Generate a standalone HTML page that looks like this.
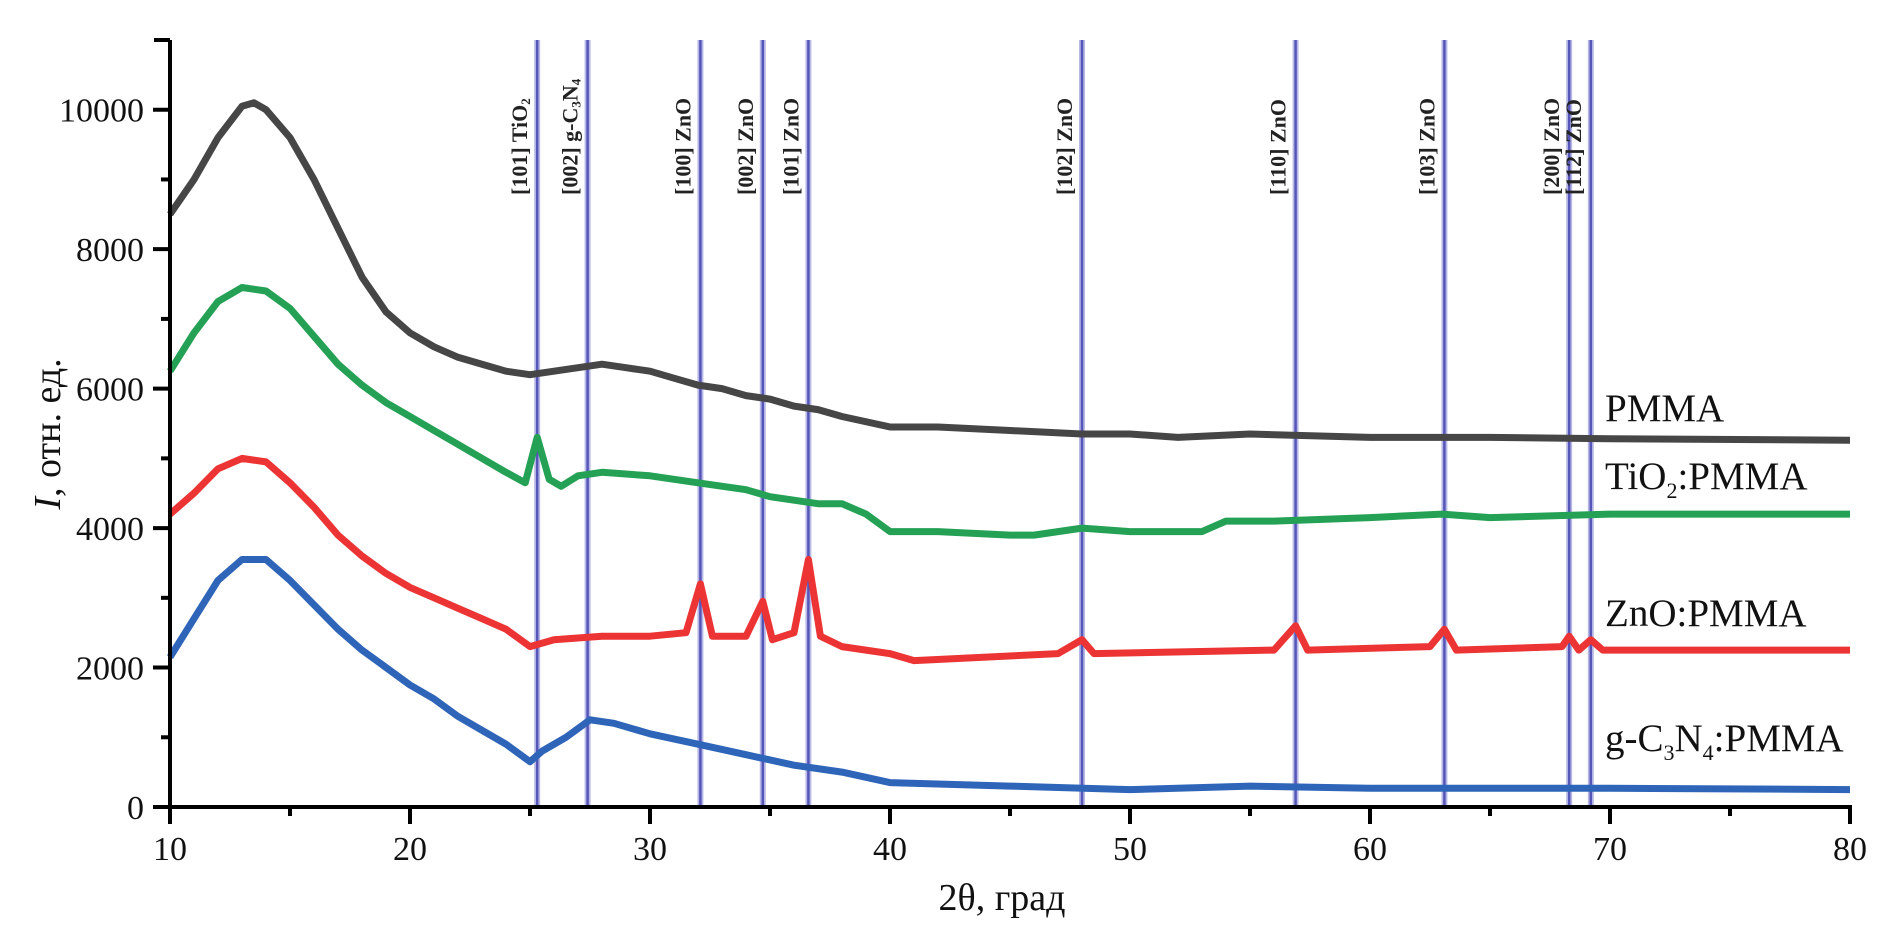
<!DOCTYPE html>
<html><head><meta charset="utf-8"><style>
html,body{margin:0;padding:0;background:#fff;}
svg{display:block;font-family:"Liberation Serif",serif;}
</style></head><body>
<svg id="chart" width="1890" height="934" viewBox="0 0 1890 934" xmlns="http://www.w3.org/2000/svg">
<g id="refs"></g>
<g id="series"></g>
<g id="axes"></g>
<text x="1002" y="910" font-size="38" text-anchor="middle" fill="#111">2θ, град</text>
<text transform="translate(60,434) rotate(-90)" font-size="38" text-anchor="middle" fill="#111"><tspan font-style="italic">I</tspan>, отн. ед.</text>
<text x="1605" y="421" font-size="39" fill="#111">PMMA</text>
<text x="1605" y="489" font-size="39" fill="#111">TiO<tspan font-size="22" dy="9">2</tspan><tspan dy="-9">:PMMA</tspan></text>
<text x="1605" y="626" font-size="39" fill="#111">ZnO:PMMA</text>
<text x="1605" y="751" font-size="39" fill="#111">g-C<tspan font-size="22" dy="9">3</tspan><tspan dy="-9">N</tspan><tspan font-size="22" dy="9">4</tspan><tspan dy="-9">:PMMA</tspan></text>
</svg>
<script>
const xTicks = [10, 20, 30, 40, 50, 60, 70, 80];
const yTicks = [0, 2000, 4000, 6000, 8000, 10000];
const refPositions = [25.3, 27.4, 32.1, 34.7, 36.6, 48.0, 56.9, 63.1, 68.3, 69.2];
const refLabels = [["[101] TiO","2",""],["[002] g-C","3","N","4"],["[100] ZnO"],["[002] ZnO"],["[101] ZnO"],["[102] ZnO"],["[110] ZnO"],["[103] ZnO"],["[200] ZnO"],["[112] ZnO"]];

const pmmaX = [10,11,12,13,13.5,14,15,16,17,18,19,20,21,22,23,24,25,26,27,28,29,30,31,32,33,34,35,36,37,38,40,42,45,48,50,52,55,60,65,70,80];
const pmmaY = [8500,9000,9600,10050,10100,10000,9600,9000,8300,7600,7100,6800,6600,6450,6350,6250,6200,6250,6300,6350,6300,6250,6150,6050,6000,5900,5850,5750,5700,5600,5450,5450,5400,5350,5350,5300,5350,5300,5300,5280,5260];

const tioX = [10,11,12,13,14,15,16,17,18,19,20,21,22,23,24,24.8,25.3,25.8,26.3,27,28,30,32,34,35,36,37,38,39,40,42,45,46,48,50,52,53,54,56,60,63,65,70,80];
const tioY = [6250,6800,7250,7450,7400,7150,6750,6350,6050,5800,5600,5400,5200,5000,4800,4650,5300,4700,4600,4750,4800,4750,4650,4550,4450,4400,4350,4350,4200,3950,3950,3900,3900,4000,3950,3950,3950,4100,4100,4150,4200,4150,4200,4200];

const znoX = [10,11,12,13,14,15,16,17,18,19,20,21,22,23,24,25,26,28,30,31.5,32.1,32.6,34,34.7,35.1,36,36.6,37.1,38,40,41,44,47,48,48.5,56,56.9,57.4,62.5,63.1,63.6,68,68.3,68.7,69.2,69.7,80];
const znoY = [4200,4500,4850,5000,4950,4650,4300,3900,3600,3350,3150,3000,2850,2700,2550,2300,2400,2450,2450,2500,3200,2450,2450,2950,2400,2500,3550,2450,2300,2200,2100,2150,2200,2400,2200,2250,2600,2250,2300,2550,2250,2300,2450,2250,2400,2250,2250];

const gcnX = [10,11,12,13,14,15,16,17,18,19,20,21,22,23,24,25,25.5,26.5,27.5,28.5,30,32,34,36,38,40,45,50,55,60,70,80];
const gcnY = [2150,2700,3250,3550,3550,3250,2900,2550,2250,2000,1750,1550,1300,1100,900,650,800,1000,1250,1200,1050,900,750,600,500,350,300,250,300,270,270,250];

const seriesNames = ["pmma","tio2-pmma","zno-pmma","gc3n4-pmma"];
const seriesColors = ["#464646","#25a155","#ec3434","#2f65b9"];

const X0=170, X1=1850, Y0=807, YTOP=40;
const xScale = v => X0 + (v-10)*(X1-X0)/70;
const yScale = v => Y0 - v*(Y0-YTOP)/11000;
const NS="http://www.w3.org/2000/svg";
function mk(tag, attrs, parent){const e=document.createElementNS(NS,tag);for(const k in attrs)e.setAttribute(k,attrs[k]);parent.appendChild(e);return e;}

const refs=document.getElementById('refs');
refPositions.forEach((p,i)=>{
  const x=xScale(p);
  const bg=mk('line',{x1:x,x2:x,y1:YTOP,y2:Y0,stroke:'#b8b8e6','stroke-width':6},refs);
  
  
  const l=mk('line',{x1:x,x2:x,y1:YTOP,y2:Y0,stroke:'#5656b8','stroke-width':2.5},refs);
  
  
  const t=mk('text',{transform:`translate(${x-18},195) rotate(-90)`,'font-size':22,'font-weight':'bold','dominant-baseline':'central',fill:'#222'},refs);
  
  
  const parts=refLabels[i];
  parts.forEach((s,j)=>{
    if(!s)return;
    const sp=document.createElementNS(NS,'tspan');
    if(j%2===1){sp.setAttribute('font-size','13');sp.setAttribute('dy','6');}
    else if(j>0){sp.setAttribute('dy','-6');}
    sp.textContent=s;t.appendChild(sp);
  });
});

const sg=document.getElementById('series');
[[pmmaX,pmmaY],[tioX,tioY],[znoX,znoY],[gcnX,gcnY]].forEach((s,i)=>{
  const d=s[0].map((x,k)=>(k?'L':'M')+xScale(x).toFixed(1)+','+yScale(s[1][k]).toFixed(1)).join(' ');
  const p=mk('path',{d:d,fill:'none',stroke:seriesColors[i],'stroke-width':7,'stroke-linejoin':'round'},sg);
  
  
});

const ax=document.getElementById('axes');
const xl=mk('line',{x1:X0-2,x2:X1+2,y1:Y0,y2:Y0,stroke:'#000','stroke-width':4},ax);


const yl=mk('line',{x1:X0,x2:X0,y1:YTOP,y2:Y0+2,stroke:'#000','stroke-width':4},ax);


mk('line',{x1:X0-16,x2:X0,y1:YTOP,y2:YTOP,stroke:'#000','stroke-width':4},ax);
xTicks.forEach((v,i)=>{
  const x=xScale(v);
  const t=mk('line',{x1:x,x2:x,y1:Y0,y2:Y0+17,stroke:'#000','stroke-width':4},ax);
  
  
  const lb=mk('text',{x:x,y:Y0+53,'font-size':34,'text-anchor':'middle',fill:'#111'},ax);
  
  
  lb.textContent=v;
  if(i<xTicks.length-1){
    const xm=xScale(v+5);
    const m=mk('line',{x1:xm,x2:xm,y1:Y0,y2:Y0+9,stroke:'#000','stroke-width':4},ax);
    
    
  }
});
yTicks.forEach((v)=>{
  const y=yScale(v);
  const t=mk('line',{x1:X0-17,x2:X0,y1:y,y2:y,stroke:'#000','stroke-width':4},ax);
  
  
  const lb=mk('text',{x:X0-26,y:y+12,'font-size':34,'text-anchor':'end',fill:'#111'},ax);
  
  
  lb.textContent=v;
  const ym=yScale(v+1000);
  const m=mk('line',{x1:X0-9,x2:X0,y1:ym,y2:ym,stroke:'#000','stroke-width':4},ax);
  
  
});
</script>
</body></html>
